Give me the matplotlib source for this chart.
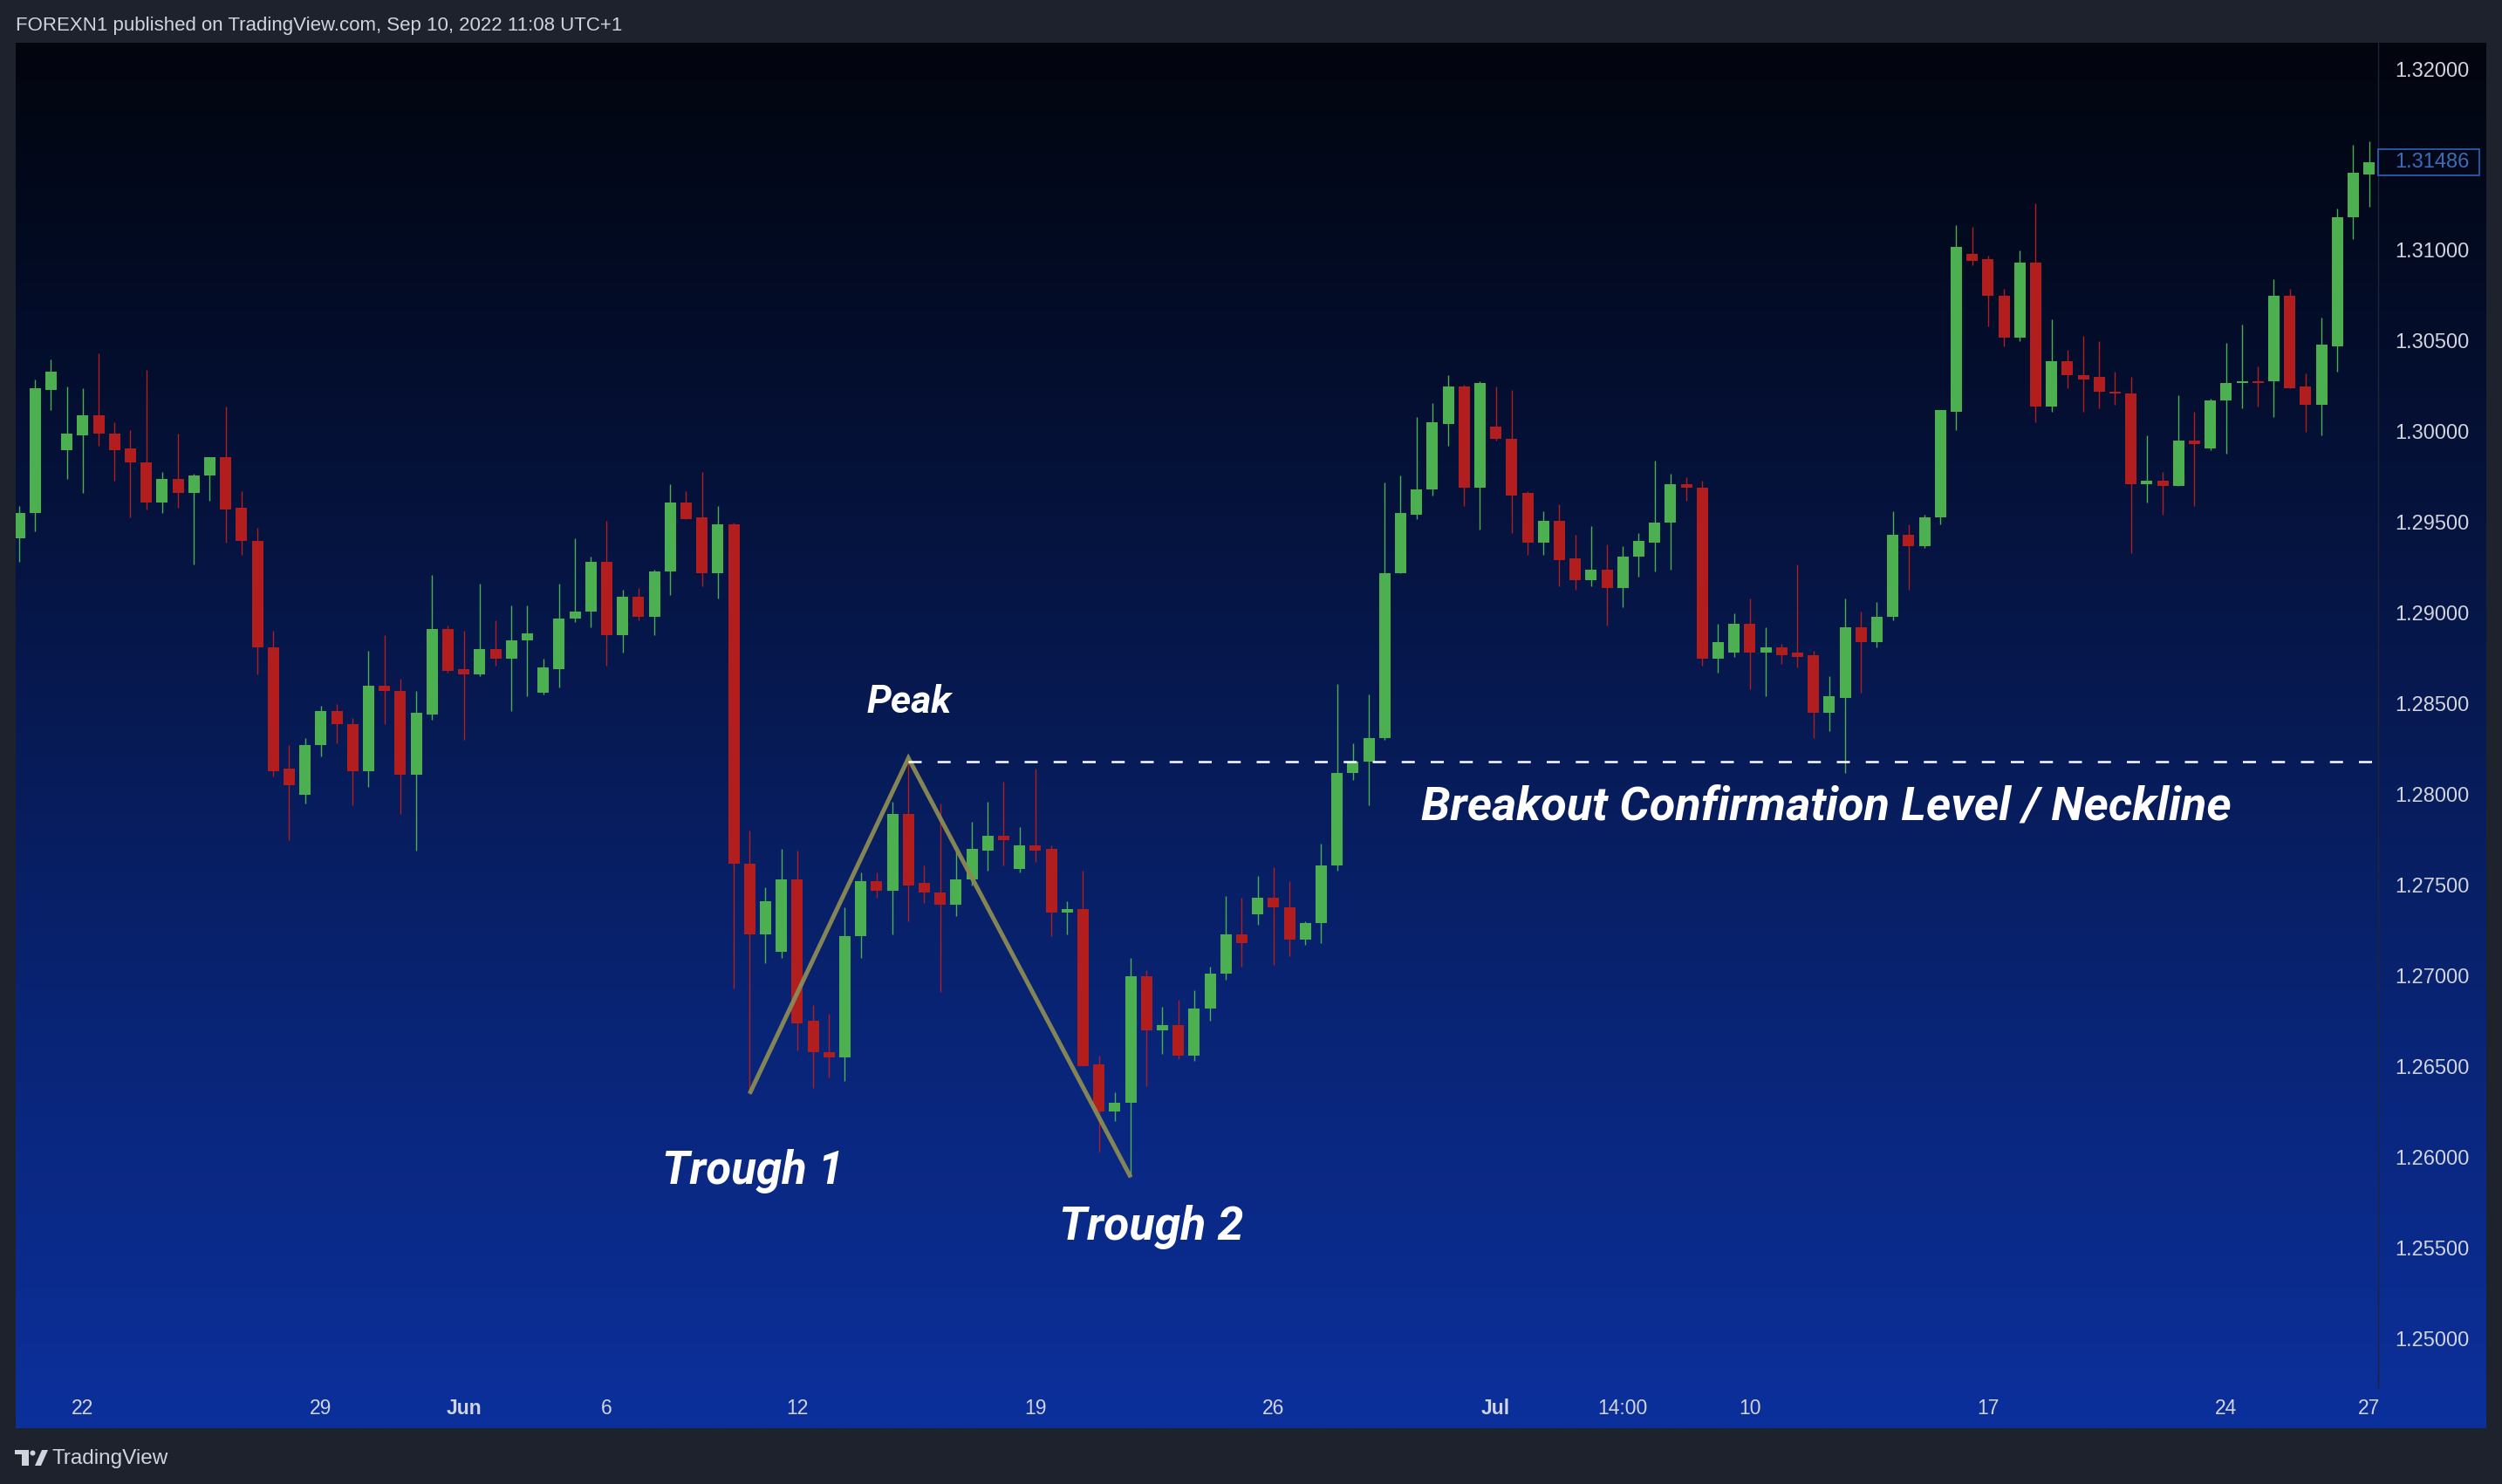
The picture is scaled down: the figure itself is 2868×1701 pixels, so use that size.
import numpy as np
import matplotlib
matplotlib.use("Agg")
import matplotlib.pyplot as plt
import matplotlib.transforms as mtransforms
from matplotlib.patches import Rectangle, Polygon, Circle

W, H, DPI = 2868, 1701, 100

# 8H candles (index 0 = first visible candle)
opens = [1.2941, 1.2955, 1.3023, 1.2990, 1.2998, 1.3009, 1.2999, 1.2991, 1.2983, 1.2961,
         1.2974, 1.2966, 1.2976, 1.2986, 1.2958, 1.2940, 1.2881, 1.2814, 1.2800, 1.2827,
         1.2846, 1.2839, 1.2813, 1.2860, 1.2857, 1.2811, 1.2844, 1.2891, 1.2869, 1.2866,
         1.2880, 1.2875, 1.2885, 1.2856, 1.2869, 1.2897, 1.2901, 1.2928, 1.2888, 1.2909,
         1.2898, 1.2923, 1.2961, 1.2953, 1.2922, 1.2949, 1.2762, 1.2723, 1.2713, 1.2753,
         1.2675, 1.2658, 1.2655, 1.2722, 1.2752, 1.2747, 1.2789, 1.2751, 1.2746, 1.2739,
         1.2753, 1.2769, 1.2777, 1.2759, 1.2772, 1.2770, 1.2735, 1.2737, 1.2651, 1.2625,
         1.2630, 1.2700, 1.2670, 1.2673, 1.2656, 1.2682, 1.2701, 1.2723, 1.2734, 1.2743,
         1.2738, 1.2720, 1.2729, 1.2761, 1.2812, 1.2818, 1.2831, 1.2922, 1.2954, 1.2968,
         1.3004, 1.3025, 1.2969, 1.3003, 1.2996, 1.2966, 1.2939, 1.2951, 1.2930, 1.2918,
         1.2924, 1.2914, 1.2931, 1.2939, 1.2950, 1.2971, 1.2969, 1.2875, 1.2878, 1.2894,
         1.2878, 1.2881, 1.2878, 1.2877, 1.2845, 1.2853, 1.2892, 1.2884, 1.2898, 1.2943,
         1.2937, 1.2953, 1.3011, 1.3098, 1.3095, 1.3075, 1.3052, 1.3093, 1.3014, 1.3039,
         1.3031, 1.3030, 1.3022, 1.3021, 1.2971, 1.2973, 1.2970, 1.2995, 1.2991, 1.3017,
         1.3027, 1.3028, 1.3028, 1.3075, 1.3025, 1.3015, 1.3047, 1.3118, 1.3142]
highs = [1.2959, 1.3029, 1.3040, 1.3025, 1.3024, 1.3043, 1.3005, 1.3001, 1.3034, 1.2978,
         1.2999, 1.2977, 1.2986, 1.3014, 1.2967, 1.2947, 1.2890, 1.2827, 1.2831, 1.2849,
         1.2850, 1.2842, 1.2879, 1.2888, 1.2864, 1.2857, 1.2921, 1.2893, 1.2890, 1.2916,
         1.2896, 1.2904, 1.2904, 1.2875, 1.2916, 1.2941, 1.2931, 1.2951, 1.2913, 1.2914,
         1.2924, 1.2971, 1.2967, 1.2978, 1.2959, 1.2950, 1.2780, 1.2749, 1.2770, 1.2769,
         1.2684, 1.2679, 1.2738, 1.2757, 1.2757, 1.2796, 1.2818, 1.2761, 1.2795, 1.2769,
         1.2785, 1.2796, 1.2807, 1.2782, 1.2814, 1.2772, 1.2741, 1.2758, 1.2656, 1.2636,
         1.2710, 1.2703, 1.2683, 1.2687, 1.2692, 1.2705, 1.2744, 1.2743, 1.2755, 1.2760,
         1.2752, 1.2730, 1.2773, 1.2861, 1.2828, 1.2855, 1.2972, 1.2976, 1.3008, 1.3016,
         1.3031, 1.3026, 1.3028, 1.3025, 1.3023, 1.2967, 1.2956, 1.2960, 1.2943, 1.2948,
         1.2938, 1.2937, 1.2944, 1.2984, 1.2977, 1.2975, 1.2973, 1.2894, 1.2900, 1.2908,
         1.2892, 1.2883, 1.2927, 1.2879, 1.2865, 1.2908, 1.2901, 1.2906, 1.2956, 1.2949,
         1.2954, 1.3012, 1.3114, 1.3113, 1.3097, 1.3079, 1.3100, 1.3126, 1.3062, 1.3045,
         1.3053, 1.3050, 1.3033, 1.3030, 1.2998, 1.2978, 1.3020, 1.3011, 1.3018, 1.3049,
         1.3059, 1.3036, 1.3084, 1.3079, 1.3032, 1.3063, 1.3123, 1.3158, 1.3160]
lows = [1.2928, 1.2945, 1.3012, 1.2974, 1.2966, 1.2992, 1.2973, 1.2953, 1.2957, 1.2955,
        1.2958, 1.2927, 1.2962, 1.2939, 1.2932, 1.2866, 1.2810, 1.2775, 1.2795, 1.2821,
        1.2828, 1.2794, 1.2804, 1.2839, 1.2789, 1.2769, 1.2841, 1.2867, 1.2830, 1.2865,
        1.2871, 1.2846, 1.2854, 1.2855, 1.2859, 1.2895, 1.2892, 1.2871, 1.2878, 1.2896,
        1.2888, 1.2910, 1.2952, 1.2915, 1.2908, 1.2693, 1.2635, 1.2707, 1.2710, 1.2659,
        1.2638, 1.2644, 1.2642, 1.2710, 1.2743, 1.2723, 1.2730, 1.2740, 1.2691, 1.2733,
        1.2750, 1.2758, 1.2761, 1.2757, 1.2763, 1.2722, 1.2723, 1.2650, 1.2603, 1.2620,
        1.2589, 1.2639, 1.2657, 1.2654, 1.2653, 1.2675, 1.2698, 1.2705, 1.2728, 1.2706,
        1.2711, 1.2717, 1.2718, 1.2758, 1.2808, 1.2794, 1.2830, 1.2922, 1.2952, 1.2965,
        1.2992, 1.2959, 1.2946, 1.2995, 1.2944, 1.2932, 1.2932, 1.2915, 1.2913, 1.2915,
        1.2893, 1.2903, 1.2920, 1.2923, 1.2924, 1.2962, 1.2871, 1.2867, 1.2876, 1.2858,
        1.2854, 1.2872, 1.2870, 1.2831, 1.2835, 1.2812, 1.2856, 1.2881, 1.2896, 1.2913,
        1.2936, 1.2949, 1.3001, 1.3092, 1.3058, 1.3047, 1.3050, 1.3005, 1.3011, 1.3024,
        1.3011, 1.3013, 1.3015, 1.2933, 1.2961, 1.2954, 1.2970, 1.2959, 1.2990, 1.2988,
        1.3013, 1.3014, 1.3008, 1.3024, 1.3000, 1.2998, 1.3033, 1.3106, 1.3124]
closes = [1.2955, 1.3024, 1.3033, 1.2999, 1.3009, 1.2999, 1.2990, 1.2983, 1.2961, 1.2974,
          1.2966, 1.2976, 1.2986, 1.2957, 1.2940, 1.2881, 1.2813, 1.2805, 1.2827, 1.2846,
          1.2839, 1.2813, 1.2860, 1.2857, 1.2811, 1.2845, 1.2891, 1.2868, 1.2866, 1.2880,
          1.2875, 1.2885, 1.2889, 1.2870, 1.2897, 1.2901, 1.2928, 1.2888, 1.2909, 1.2898,
          1.2923, 1.2961, 1.2952, 1.2922, 1.2949, 1.2762, 1.2723, 1.2741, 1.2753, 1.2674,
          1.2658, 1.2655, 1.2722, 1.2752, 1.2747, 1.2789, 1.2750, 1.2746, 1.2739, 1.2753,
          1.2770, 1.2777, 1.2775, 1.2772, 1.2769, 1.2735, 1.2737, 1.2650, 1.2625, 1.2630,
          1.2700, 1.2670, 1.2673, 1.2656, 1.2682, 1.2701, 1.2723, 1.2718, 1.2743, 1.2738,
          1.2720, 1.2729, 1.2761, 1.2812, 1.2818, 1.2831, 1.2922, 1.2955, 1.2968, 1.3005,
          1.3025, 1.2969, 1.3027, 1.2996, 1.2965, 1.2939, 1.2951, 1.2929, 1.2918, 1.2924,
          1.2914, 1.2931, 1.2940, 1.2950, 1.2971, 1.2969, 1.2875, 1.2884, 1.2894, 1.2878,
          1.2881, 1.2877, 1.2876, 1.2845, 1.2854, 1.2892, 1.2884, 1.2898, 1.2943, 1.2937,
          1.2953, 1.3012, 1.3102, 1.3094, 1.3075, 1.3052, 1.3093, 1.3014, 1.3039, 1.3031,
          1.3029, 1.3022, 1.3021, 1.2971, 1.2973, 1.2970, 1.2995, 1.2993, 1.3017, 1.3027,
          1.3028, 1.3027, 1.3075, 1.3024, 1.3015, 1.3048, 1.3118, 1.3143, 1.31486]

date_pos = [4, 19, 28, 37, 49, 64, 79, 93, 101, 109, 124, 139, 148]
date_labels = ['22', '29', 'Jun', '6', '12', '19', '26', 'Jul', '14:00', '10', '17', '24', '27']
month_labels = ['Jun', 'Jul']
# 1.315 is covered by the last-price tag, so it is not labelled
price_ticks = [1.250, 1.255, 1.260, 1.265, 1.270, 1.275, 1.280, 1.285,
               1.290, 1.295, 1.300, 1.305, 1.310, 1.320]
last_price = 1.31486

# double bottom drawing
pattern_x = [46, 56, 70]
pattern_y = [1.2635, 1.2820, 1.2589]
neckline = 1.2818

GREEN = '#4caf50'
RED = '#b21e1e'
TXT = '#d1d4dc'

fig = plt.figure(figsize=(W / DPI, H / DPI), dpi=DPI, facecolor='#1e222d')

# gradient panel behind chart + price scale
bg = fig.add_axes([18 / W, 1 - 1637 / H, (2850 - 18) / W, (1637 - 49) / H])
stops_y = [49, 300, 600, 900, 1200, 1637]
stops_c = np.array([[2, 5, 14], [3, 11, 35], [5, 19, 62], [7, 28, 90], [9, 37, 120], [12, 48, 156]])
ys = np.linspace(49, 1637, 600)
grad = np.stack([np.interp(ys, stops_y, stops_c[:, k]) for k in range(3)], axis=1) / 255.0
bg.imshow(grad[:, None, :], aspect='auto', extent=[0, 1, 1, 0])
bg.axis('off')

ax = fig.add_axes([18 / W, 1 - 1590 / H, (2725.7 - 18) / W, (1590 - 49) / H])
ax.set_facecolor('none')

x = np.arange(len(opens))
o = np.array(opens); hi = np.array(highs); lo = np.array(lows); c = np.array(closes)
cols = np.where(c >= o, GREEN, RED)
ax.vlines(x, lo, hi, colors=cols, lw=1.0, zorder=2)
ax.bar(x, np.maximum(np.abs(c - o), 0.0001), bottom=np.minimum(o, c), width=0.715,
       color=cols, lw=0, zorder=3)

ax.plot(pattern_x, pattern_y, color='#8c8b55', lw=3.6, alpha=0.95, zorder=4,
        solid_capstyle='butt', solid_joinstyle='miter')
ax.plot([pattern_x[1], 148.55], [neckline, neckline], color='white', lw=1.8,
        dashes=(6, 7.3), zorder=4)

ann = dict(color='white', fontweight='bold', fontstyle='italic', family='Roboto', zorder=5)
ax.text(53.36, 1.2845, 'Peak', fontsize=32, ha='left', va='baseline', **ann)
ax.text(40.5, 1.25853, 'Trough 1', fontsize=38, ha='left', va='baseline', **ann)
ax.text(65.5, 1.25545, 'Trough 2', fontsize=38.5, ha='left', va='baseline', **ann)
ax.text(88.3, 1.27859, 'Breakout Confirmation Level / Neckline', fontsize=39,
        ha='left', va='baseline', **ann)

ax.set_xlim(-0.225, 148.55)
ax.set_ylim(1.247321, 1.321443)

ax.set_xticks(date_pos)
ax.set_xticklabels(date_labels)
for t in ax.get_xticklabels():
    t.set_family('Liberation Sans')
    if t.get_text() in month_labels:
        t.set_fontweight('bold')
ax.tick_params(axis='x', length=0, pad=9.5, labelsize=16.5, labelcolor=TXT)

ax.yaxis.tick_right()
ax.set_yticks(price_ticks)
ax.set_yticklabels(['%.5f' % p for p in price_ticks], family='Liberation Sans')
ax.tick_params(axis='y', length=0, pad=13.9, labelsize=17, labelcolor=TXT)

for s in ['top', 'left', 'bottom']:
    ax.spines[s].set_visible(False)
ax.spines['right'].set_color('#20263a')
ax.spines['right'].set_linewidth(1)

# last price marker on the scale
blend = mtransforms.blended_transform_factory(ax.transAxes, ax.transData)
box_h = 29.6 / 20790
ax.add_patch(Rectangle((1.0, last_price - box_h / 2), (2842 - 2725.7) / (2725.7 - 18), box_h,
                       transform=blend, fill=False, ec='#2a5cad', lw=1.3, clip_on=False, zorder=6))
ax.text(1.0 + 19.3 / (2725.7 - 18), last_price, '%.5f' % last_price, transform=blend,
        ha='left', va='center', fontsize=17, color='#3f6bb5', family='Liberation Sans',
        clip_on=False, zorder=6)

# header / footer in pixel space
ov = fig.add_axes([0, 0, 1, 1], zorder=-1)
ov.set_xlim(0, W)
ov.set_ylim(H, 0)
ov.axis('off')
ov.text(18, 30, 'FOREXN1 published on TradingView.com, Sep 10, 2022 11:08 UTC+1',
        ha='left', va='center', fontsize=16, color=TXT, family='Liberation Sans')
ov.add_patch(Rectangle((17, 1662), 16, 5, color=TXT, lw=0))
ov.add_patch(Rectangle((25, 1662), 8, 18, color=TXT, lw=0))
ov.add_patch(Circle((37.5, 1665.5), 3, color=TXT, lw=0))
ov.add_patch(Polygon([(40, 1680), (47, 1680), (55, 1662), (48, 1662)], color=TXT, lw=0))
ov.text(60, 1672, 'TradingView', ha='left', va='center', fontsize=17.5, color=TXT,
        family='Liberation Sans')

fig.savefig('out.png', dpi=DPI, facecolor=fig.get_facecolor())
